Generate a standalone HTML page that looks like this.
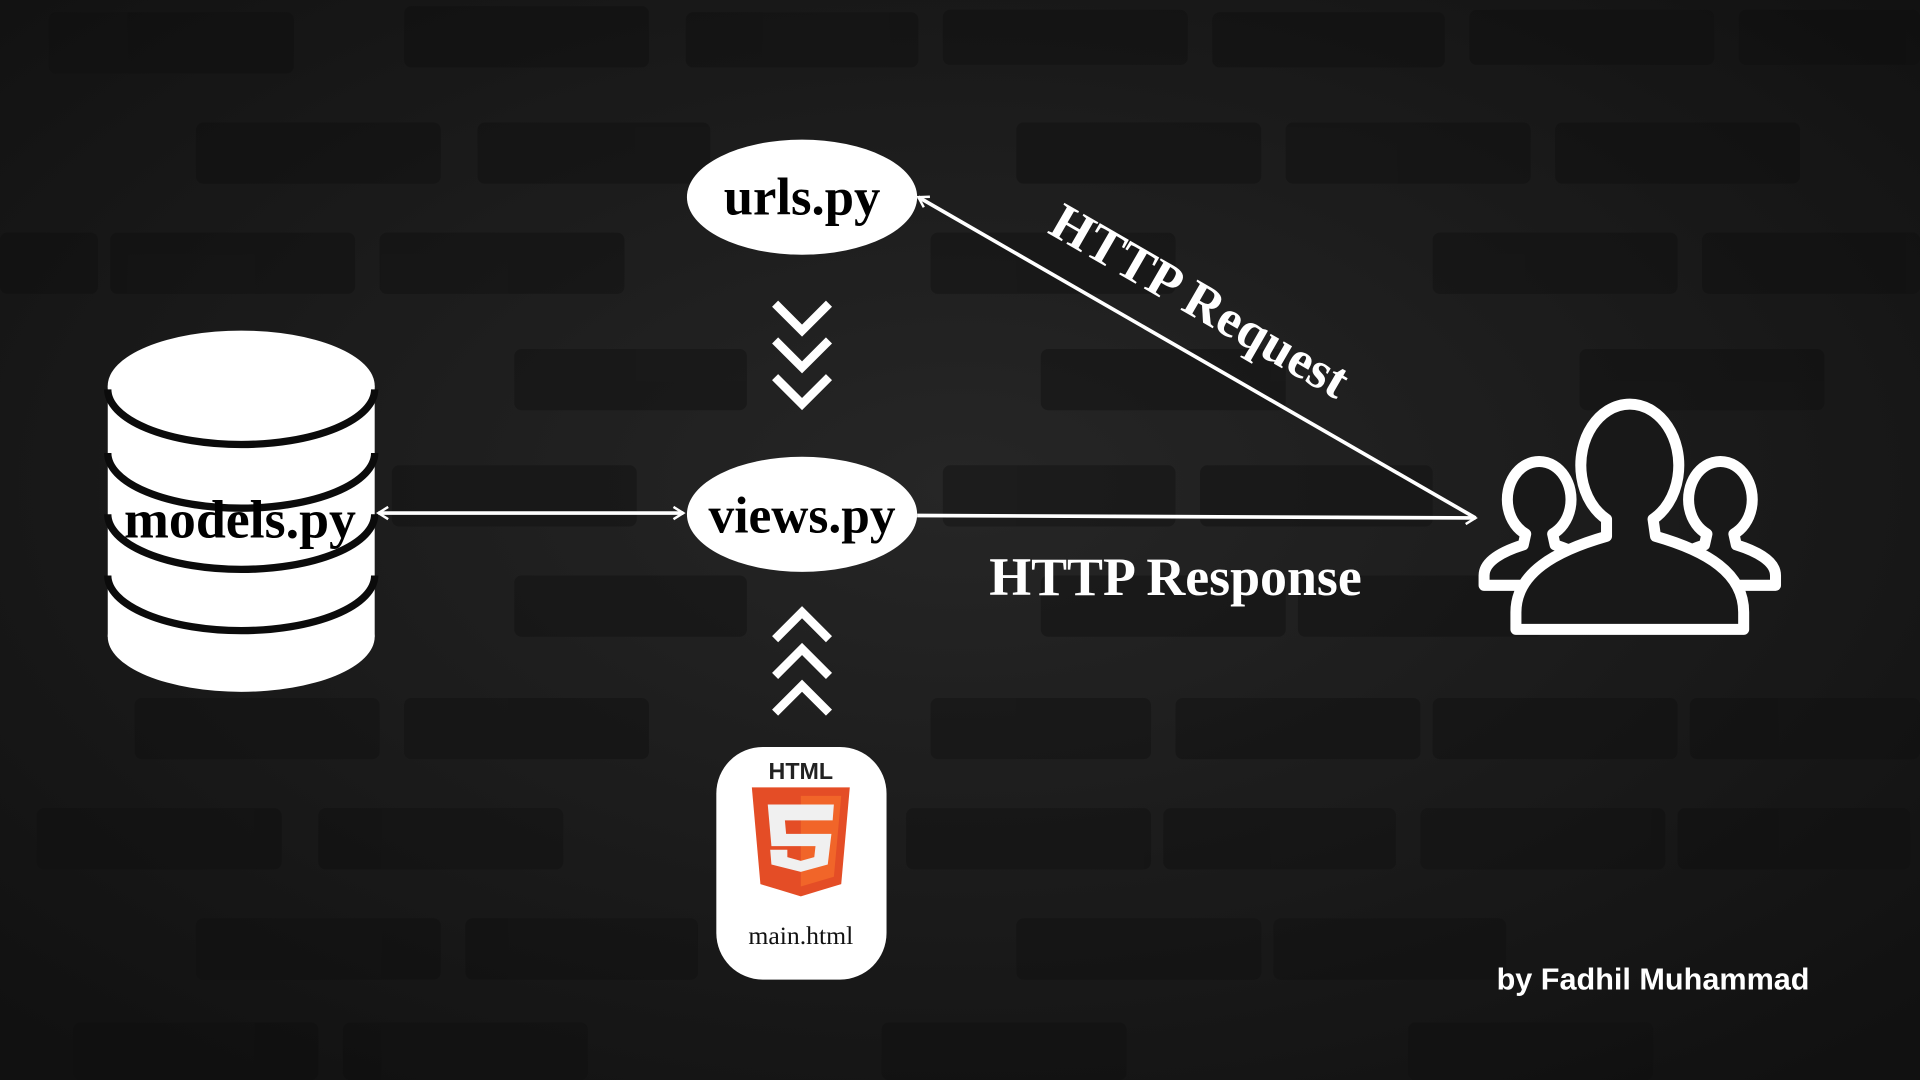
<!DOCTYPE html>
<html><head><meta charset="utf-8"><style>
html,body{margin:0;padding:0;background:#151515;}
svg{display:block;}
</style></head><body>
<svg width="1920" height="1080" viewBox="0 0 1568 882" preserveAspectRatio="none" xmlns="http://www.w3.org/2000/svg">
<defs>
<radialGradient id="bg" cx="50%" cy="45%" r="70%">
<stop offset="0" stop-color="#262626"/><stop offset="1" stop-color="#111"/>
</radialGradient>
<marker id="ah" markerWidth="12" markerHeight="12" refX="10" refY="6" orient="auto" markerUnits="userSpaceOnUse">
<path d="M2,1 L10,6 L2,11" fill="none" stroke="#fff" stroke-width="2"/>
</marker>
<marker id="as" markerWidth="12" markerHeight="12" refX="2" refY="6" orient="auto" markerUnits="userSpaceOnUse">
<path d="M10,1 L2,6 L10,11" fill="none" stroke="#fff" stroke-width="2"/>
</marker>
</defs>
<rect width="1568" height="882" fill="url(#bg)"/>
<g fill="#0e0e0e" opacity="0.4">
<rect x="40" y="10" width="200" height="50" rx="6"/><rect x="330" y="5" width="200" height="50" rx="6"/><rect x="560" y="10" width="190" height="45" rx="6"/><rect x="770" y="8" width="200" height="45" rx="6"/><rect x="990" y="10" width="190" height="45" rx="6"/><rect x="1200" y="8" width="200" height="45" rx="6"/><rect x="1420" y="8" width="148" height="45" rx="6"/>
<rect x="160" y="100" width="200" height="50" rx="6"/><rect x="390" y="100" width="190" height="50" rx="6"/><rect x="830" y="100" width="200" height="50" rx="6"/><rect x="1050" y="100" width="200" height="50" rx="6"/><rect x="1270" y="100" width="200" height="50" rx="6"/>
<rect x="0" y="190" width="80" height="50" rx="6"/><rect x="90" y="190" width="200" height="50" rx="6"/><rect x="310" y="190" width="200" height="50" rx="6"/><rect x="760" y="190" width="200" height="50" rx="6"/><rect x="1170" y="190" width="200" height="50" rx="6"/><rect x="1390" y="190" width="178" height="50" rx="6"/>
<rect x="420" y="285" width="190" height="50" rx="6"/><rect x="850" y="285" width="200" height="50" rx="6"/><rect x="1290" y="285" width="200" height="50" rx="6"/>
<rect x="320" y="380" width="200" height="50" rx="6"/><rect x="770" y="380" width="190" height="50" rx="6"/><rect x="980" y="380" width="190" height="50" rx="6"/>
<rect x="420" y="470" width="190" height="50" rx="6"/><rect x="850" y="470" width="200" height="50" rx="6"/><rect x="1060" y="470" width="200" height="50" rx="6"/>
<rect x="110" y="570" width="200" height="50" rx="6"/><rect x="330" y="570" width="200" height="50" rx="6"/><rect x="760" y="570" width="180" height="50" rx="6"/><rect x="960" y="570" width="200" height="50" rx="6"/><rect x="1170" y="570" width="200" height="50" rx="6"/><rect x="1380" y="570" width="188" height="50" rx="6"/>
<rect x="30" y="660" width="200" height="50" rx="6"/><rect x="260" y="660" width="200" height="50" rx="6"/><rect x="740" y="660" width="200" height="50" rx="6"/><rect x="950" y="660" width="190" height="50" rx="6"/><rect x="1160" y="660" width="200" height="50" rx="6"/><rect x="1370" y="660" width="190" height="50" rx="6"/>
<rect x="160" y="750" width="200" height="50" rx="6"/><rect x="380" y="750" width="190" height="50" rx="6"/><rect x="830" y="750" width="200" height="50" rx="6"/><rect x="1040" y="750" width="190" height="50" rx="6"/>
<rect x="60" y="835" width="200" height="47" rx="6"/><rect x="280" y="835" width="200" height="47" rx="6"/><rect x="720" y="835" width="200" height="47" rx="6"/><rect x="1150" y="835" width="200" height="47" rx="6"/>
</g>

<!-- database -->
<rect x="88" y="315" width="218" height="205" fill="#fff"/>
<ellipse cx="197" cy="520" rx="109" ry="45" fill="#fff"/>
<ellipse cx="197" cy="315" rx="109" ry="45" fill="#fff"/>
<g fill="none" stroke="#0b0b0b" stroke-width="6">
<path d="M88 318 A109 45 0 0 0 306 318"/>
<path d="M88 370 A109 45 0 0 0 306 370"/>
<path d="M88 420 A109 45 0 0 0 306 420"/>
<path d="M88 470 A109 45 0 0 0 306 470"/>
</g>
<text x="196" y="439" text-anchor="middle" font-family="Liberation Serif, serif" font-weight="bold" font-size="44" fill="#000">models.py</text>

<!-- ellipses -->
<ellipse cx="655" cy="161" rx="94" ry="47" fill="#fff"/>
<text x="655" y="175" text-anchor="middle" font-family="Liberation Serif, serif" font-weight="bold" font-size="43" fill="#000">urls.py</text>
<ellipse cx="655" cy="420" rx="94" ry="47" fill="#fff"/>
<text x="655" y="435" text-anchor="middle" font-family="Liberation Serif, serif" font-weight="bold" font-size="42" fill="#000">views.py</text>

<!-- chevrons -->
<g fill="none" stroke="#fff" stroke-width="7" stroke-linejoin="miter">
<path d="M633 248 L655 270 L677 248"/>
<path d="M633 278 L655 300 L677 278"/>
<path d="M633 308 L655 330 L677 308"/>
<path d="M633 522 L655 500 L677 522"/>
<path d="M633 552 L655 530 L677 552"/>
<path d="M633 582 L655 560 L677 582"/>
</g>

<!-- connectors -->
<line x1="309" y1="419" x2="558" y2="419" stroke="#fff" stroke-width="3" marker-start="url(#as)" marker-end="url(#ah)"/>
<line x1="749" y1="421" x2="1205" y2="423" stroke="#fff" stroke-width="3" marker-end="url(#ah)"/>
<line x1="1205" y1="423" x2="750" y2="161" stroke="#fff" stroke-width="3" marker-end="url(#ah)"/>
<text transform="translate(973,258) rotate(30)" text-anchor="middle" font-family="Liberation Serif, serif" font-weight="bold" font-size="43" fill="#fff">HTTP Request</text>
<text x="960" y="486" text-anchor="middle" font-family="Liberation Serif, serif" font-weight="bold" font-size="44" fill="#fff">HTTP Response</text>

<!-- html card -->
<rect x="585" y="610" width="139" height="190" rx="38" fill="#fff"/>
<text x="654" y="636" text-anchor="middle" font-family="Liberation Sans, sans-serif" font-weight="bold" font-size="19" fill="#222">HTML</text>
<path d="M614 643 L694 643 L687 722 L654 732 L621 722 Z" fill="#e44d26"/>
<path d="M654 650 L687 650 L681 716 L654 724 Z" fill="#f16529"/>
<path d="M627 657 L681 657 L680 670 L641 670 L642 681 L679 681 L676 706 L654 712 L630 706 L629 694 L643 694 L643 700 L654 703 L665 700 L666 691 L630 691 Z" fill="#f0f0f0"/>
<text x="654" y="771" text-anchor="middle" font-family="Liberation Serif, serif" font-size="21" fill="#111">main.html</text>

<!-- users -->
<g fill="#181818" stroke="#fff" stroke-width="9" stroke-linejoin="round">
<path d="M1246 436 A26 31 0 1 1 1268 436 L1270 445 C1285 450 1295 455 1300 460 L1300 478 L1212 478 L1212 470 C1212 458 1228 450 1244 445 Z"/>
<path d="M1394 436 A26 31 0 1 1 1416 436 L1418 445 C1434 450 1450 458 1450 470 L1450 478 L1362 478 L1362 460 C1367 455 1377 450 1392 445 Z"/>
<path d="M1312 424 A40 50 0 1 1 1350 424 L1352 438 C1394 450 1424 468 1424 500 L1424 514 L1238 514 L1238 500 C1238 468 1270 450 1312 438 Z"/>
</g>

<text x="1350" y="808" text-anchor="middle" font-family="Liberation Sans, DejaVu Sans, sans-serif" font-weight="bold" font-size="25" fill="#fff">by Fadhil Muhammad</text>
</svg>
</body></html>
